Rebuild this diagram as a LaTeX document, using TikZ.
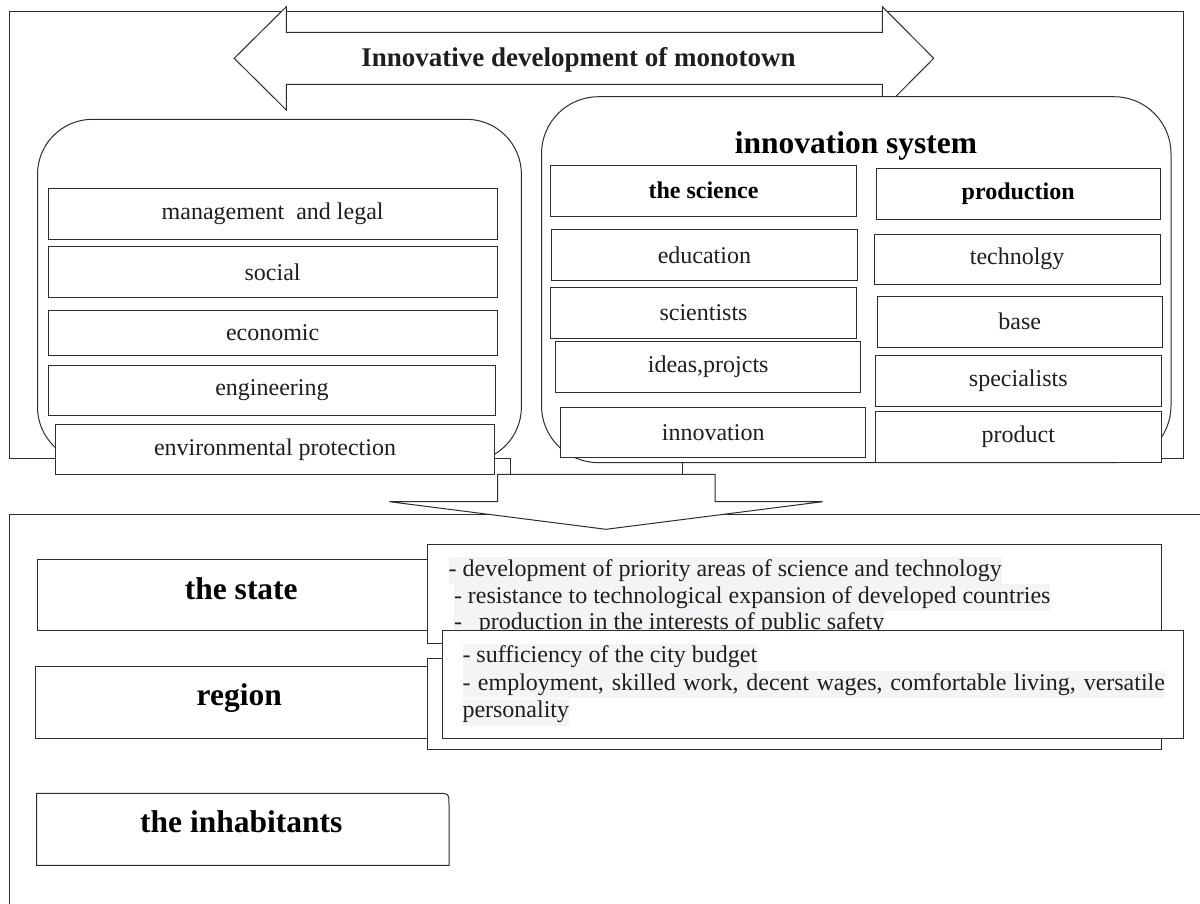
\documentclass[tikz,border=0pt]{standalone}
\usepackage{fontspec}
\setmainfont{Liberation Serif}
\definecolor{edge}{RGB}{45,45,45}
\definecolor{ink}{RGB}{30,30,30}
\definecolor{band}{RGB}{243,244,246}

\tikzset{
  outline/.style={draw=edge, line width=1pt},
  panel/.style={outline, fill=white, inner sep=0pt},
  cell/.style={panel, font=\fontsize{24}{28}\selectfont, text=ink},
  headcell/.style={panel, font=\fontsize{24}{28}\selectfont\bfseries, text=black},
  biglabel/.style={inner sep=0pt, font=\fontsize{31.5}{36}\selectfont\bfseries, text=black},
  bullet/.style={anchor=base west, fill=band, inner xsep=0pt, inner ysep=0pt,
                 text height=19pt, text depth=8pt, font=\fontsize{24}{28}\selectfont, text=ink},
}
% \rectnode{style}{name}{x1}{y1}{x2}{y2}{text}: a node spanning the given corners
\newcommand\rectnode[7]{%
  \node[#1, minimum width={(#5-#3)*1pt}, minimum height={(#6-#4)*1pt}]
    (#2) at ({(#3+#5)/2},{(#4+#6)/2}) {#7};}

\begin{document}
\begin{tikzpicture}[x=1pt,y=-1pt]
\useasboundingbox (0,0) rectangle (1200,903);

% ---------- upper frame (its bottom edge turns down into the arrow) ----------
\coordinate (elbow) at (510,474.3);
\draw[outline] (elbow) -- (510,458.3) -- (9.6,458.3) -- (9.6,11.7)
  -- (1183.5,11.7) -- (1183.5,458.3) -- (1150,458.3);

% double block arrow with the heading
\draw[panel] (234.2,58.3) -- (286.3,6.7) -- (286.3,32.3) -- (882.4,32.3) -- (882.4,6.7)
  -- (933.7,58.3) -- (882.4,110) -- (882.4,84.3) -- (286.3,84.3) -- (286.3,110) -- cycle;
\node[inner sep=0pt, font=\fontsize{27}{32}\selectfont\bfseries, text=ink] (title)
  at (578.4,60) {Innovative development of monotown};

% ---------- left group ----------
\rectnode{panel, rounded corners=55pt}{govbox}{37.5}{119.3}{521.4}{462}{}
\rectnode{cell}{mgmt}{48.2}{188.3}{497.1}{239}{management\hspace{0.25em} and legal}
\rectnode{cell}{social}{48.2}{246.7}{497.1}{297.7}{social}
\rectnode{cell}{econ}{48.2}{310.7}{497.1}{355}{economic}
\rectnode{cell}{eng}{48.2}{365}{495.7}{415.7}{engineering}
\rectnode{cell}{env}{55.5}{424.3}{494.5}{474.3}{environmental protection}

% ---------- innovation system ----------
\rectnode{panel, rounded corners=57pt}{sysbox}{541.5}{96.7}{1171}{462.7}{}
\node[biglabel] (systitle) at (856,146) {innovation system};
\rectnode{headcell}{science}{550.5}{165}{856.5}{216}{the science}
\rectnode{headcell}{prod}{876}{168.3}{1160.3}{219}{production}
\rectnode{cell}{edu}{551.4}{229.3}{857.4}{280.7}{education}
\rectnode{cell}{tech}{874}{234}{1160.3}{284.3}{technolgy}
\rectnode{cell}{sci}{550.5}{287.3}{856.5}{338.7}{scientists}
\rectnode{cell}{base}{877}{296}{1162.5}{347.3}{base}
\rectnode{cell}{ideas}{555.6}{341.3}{860.8}{392.3}{ideas,projcts}
\rectnode{cell}{spec}{875.3}{355.3}{1161.2}{406.3}{specialists}
\rectnode{cell}{innov}{560.8}{407}{865.5}{457.7}{innovation}
\rectnode{cell}{product}{875.3}{411.3}{1161.2}{462}{product}

% ---------- lower frame and the down arrow ----------
\draw[outline] (1210,514.3) -- (9,514.3) -- (9,910);
\draw[panel] (497.7,474.3) -- (715,474.3) -- (715,501.7) -- (822.5,501.7)
  -- (606,529.3) -- (389.5,501.7) -- (497.7,501.7) -- cycle;
\coordinate (feed) at (682.3,474.3);
\draw[outline] (feed |- sysbox.south) -- (feed);

% ---------- levels ----------
\rectnode{panel}{statebox}{37.3}{559}{440}{630}{}
\node[biglabel] (state) at (241.3,589) {the state};
\rectnode{panel}{regionbox}{35}{666.7}{440}{738.3}{}
\node[biglabel] (region) at (239.2,698) {region};

\rectnode{panel}{statenote}{427.5}{544.3}{1161.3}{643.3}{}
\node[bullet] (s1) at (448.4,576) {- development of priority areas of science and technology};
\node[bullet] (s2) at (453.8,603) {- resistance to technological expansion of developed countries};
\node[bullet] (s3) at (453.8,629.6) {-\hspace{17pt}production in the interests of public safety};

\rectnode{panel}{regionback}{427.5}{658.3}{1161.3}{749.3}{}
\rectnode{panel}{regionnote}{442.4}{630}{1183.7}{738.3}{}
\node[bullet] (r1) at (462.3,662.7) {- sufficiency of the city budget};
\node[bullet] (r2) at (462.3,690.3) {\makebox[702.5pt][s]{- employment, skilled work, decent wages, comfortable living, versatile}};
\node[bullet] (r3) at (462.3,717.5) {personality};

\draw[panel] (36.7,865.3) -- (36.7,793.3) -- (437,793.3) .. controls (449,793.3) .. (449,805.3)
  -- (449,865.3) -- cycle;
\node[biglabel] (inhab) at (241.3,822) {the inhabitants};
\end{tikzpicture}
\end{document}
